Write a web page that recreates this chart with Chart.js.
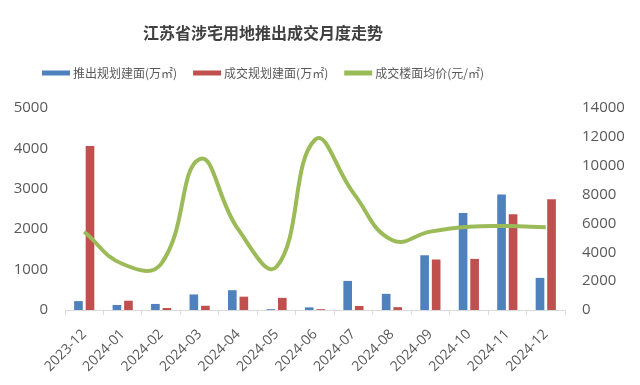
<!DOCTYPE html>
<html>
<head>
<meta charset="utf-8">
<script src="https://cdn.jsdelivr.net/npm/chart.js@4.4.1/dist/chart.umd.min.js"></script>
<style>
  html, body { margin: 0; padding: 0; background: #ffffff; }
  #wrap { width: 640px; height: 385px; position: relative; }
</style>
</head>
<body>
<div id="wrap"><canvas id="c" width="640" height="385"></canvas></div>
<script>
const TITLE = '江苏省涉宅用地推出成交月度走势';
const categories = ['2023-12','2024-01','2024-02','2024-03','2024-04','2024-05','2024-06','2024-07','2024-08','2024-09','2024-10','2024-11','2024-12'];
const launchedArea = [220, 125, 150, 385, 490, 20, 65, 720, 400, 1355, 2400, 2860, 795];
const transactedArea = [4060, 230, 50, 105, 330, 300, 20, 100, 70, 1250, 1265, 2370, 2740];
const avgPrice = [5420, 3190, 3200, 10460, 5600, 3000, 11800, 8100, 4850, 5430, 5770, 5820, 5730];
const seriesNames = ['推出规划建面(万㎡)', '成交规划建面(万㎡)', '成交楼面均价(元/㎡)'];
const leftTicks = [0, 1000, 2000, 3000, 4000, 5000];
const rightTicks = [0, 2000, 4000, 6000, 8000, 10000, 12000, 14000];

const BLUE = '#4F81BD', RED = '#C0504D', GREEN = '#9BBB59';
const CJK = '"Noto Sans CJK SC", "Noto Sans", sans-serif';

const headerPlugin = {
  id: 'header',
  beforeDraw(chart) {
    const ctx = chart.ctx;
    ctx.save();
    ctx.fillStyle = '#ffffff';
    ctx.fillRect(0, 0, chart.width, chart.height);
    ctx.restore();
  },
  afterDraw(chart) {
    const ctx = chart.ctx;
    const cx = 263;
    ctx.save();
    ctx.font = 'bold 16px ' + CJK;
    ctx.fillStyle = '#404040';
    ctx.textAlign = 'center';
    ctx.textBaseline = 'middle';
    ctx.fillText(TITLE, cx, 33);
    // legend
    ctx.font = '12px ' + CJK;
    const boxW = 28, boxH = 5, gapBox = 3, gapItem = 16;
    const ds = chart.data.datasets;
    const widths = ds.map(d => boxW + gapBox + ctx.measureText(d.label).width);
    const total = widths.reduce((a, b) => a + b, 0) + gapItem * (ds.length - 1);
    let x = cx - total / 2;
    const y = 73;
    ds.forEach((d, i) => {
      ctx.fillStyle = d.type === 'line' ? d.borderColor : d.backgroundColor;
      ctx.fillRect(x, y - boxH / 2, boxW, boxH);
      ctx.fillStyle = '#595959';
      ctx.textAlign = 'left';
      ctx.fillText(d.label, x + boxW + gapBox, y);
      x += widths[i] + gapItem;
    });
    ctx.restore();
  }
};

const plain = v => String(v);

new Chart(document.getElementById('c'), {
  type: 'bar',
  data: {
    labels: categories,
    datasets: [
      { label: seriesNames[0], data: launchedArea, yAxisID: 'y', backgroundColor: BLUE, barPercentage: 0.75, categoryPercentage: 0.6, order: 1 },
      { label: seriesNames[1], data: transactedArea, yAxisID: 'y', backgroundColor: RED, barPercentage: 0.75, categoryPercentage: 0.6, order: 1 },
      { type: 'line', label: seriesNames[2], data: avgPrice, yAxisID: 'y1', borderColor: GREEN, backgroundColor: GREEN, borderWidth: 4, pointRadius: 0, tension: 0.45, order: 0 }
    ]
  },
  options: {
    responsive: false,
    animation: false,
    devicePixelRatio: 1,
    layout: { padding: { top: 108, right: 0, bottom: 0, left: 0 } },
    plugins: { legend: { display: false }, title: { display: false }, tooltip: { enabled: false } },
    scales: {
      x: {
        offset: true,
        grid: { display: true, drawOnChartArea: false, drawTicks: true, tickLength: 5, color: '#d9d9d9', offset: true },
        border: { display: true, color: '#d9d9d9' },
        ticks: { color: '#595959', font: { size: 14, family: '"Open Sans", sans-serif' }, maxRotation: 45, minRotation: 45, padding: 11, autoSkip: false },
        afterFit(s) { s.height = 75; }
      },
      y: {
        position: 'left', min: 0, max: 5000,
        afterBuildTicks(s) { s.ticks = leftTicks.map(v => ({ value: v })); },
        grid: { display: false, drawTicks: false },
        border: { display: false },
        ticks: { color: '#595959', font: { size: 15, family: '"Open Sans", sans-serif' }, padding: 17, callback: plain },
        afterFit(s) { s.width = 65; }
      },
      y1: {
        position: 'right', min: 0, max: 14000,
        afterBuildTicks(s) { s.ticks = rightTicks.map(v => ({ value: v })); },
        grid: { display: false, drawTicks: false },
        border: { display: false },
        ticks: { color: '#595959', font: { size: 15, family: '"Open Sans", sans-serif' }, padding: 17, callback: plain },
        afterFit(s) { s.width = 75; }
      }
    }
  },
  plugins: [headerPlugin]
});
</script>
</body>
</html>
